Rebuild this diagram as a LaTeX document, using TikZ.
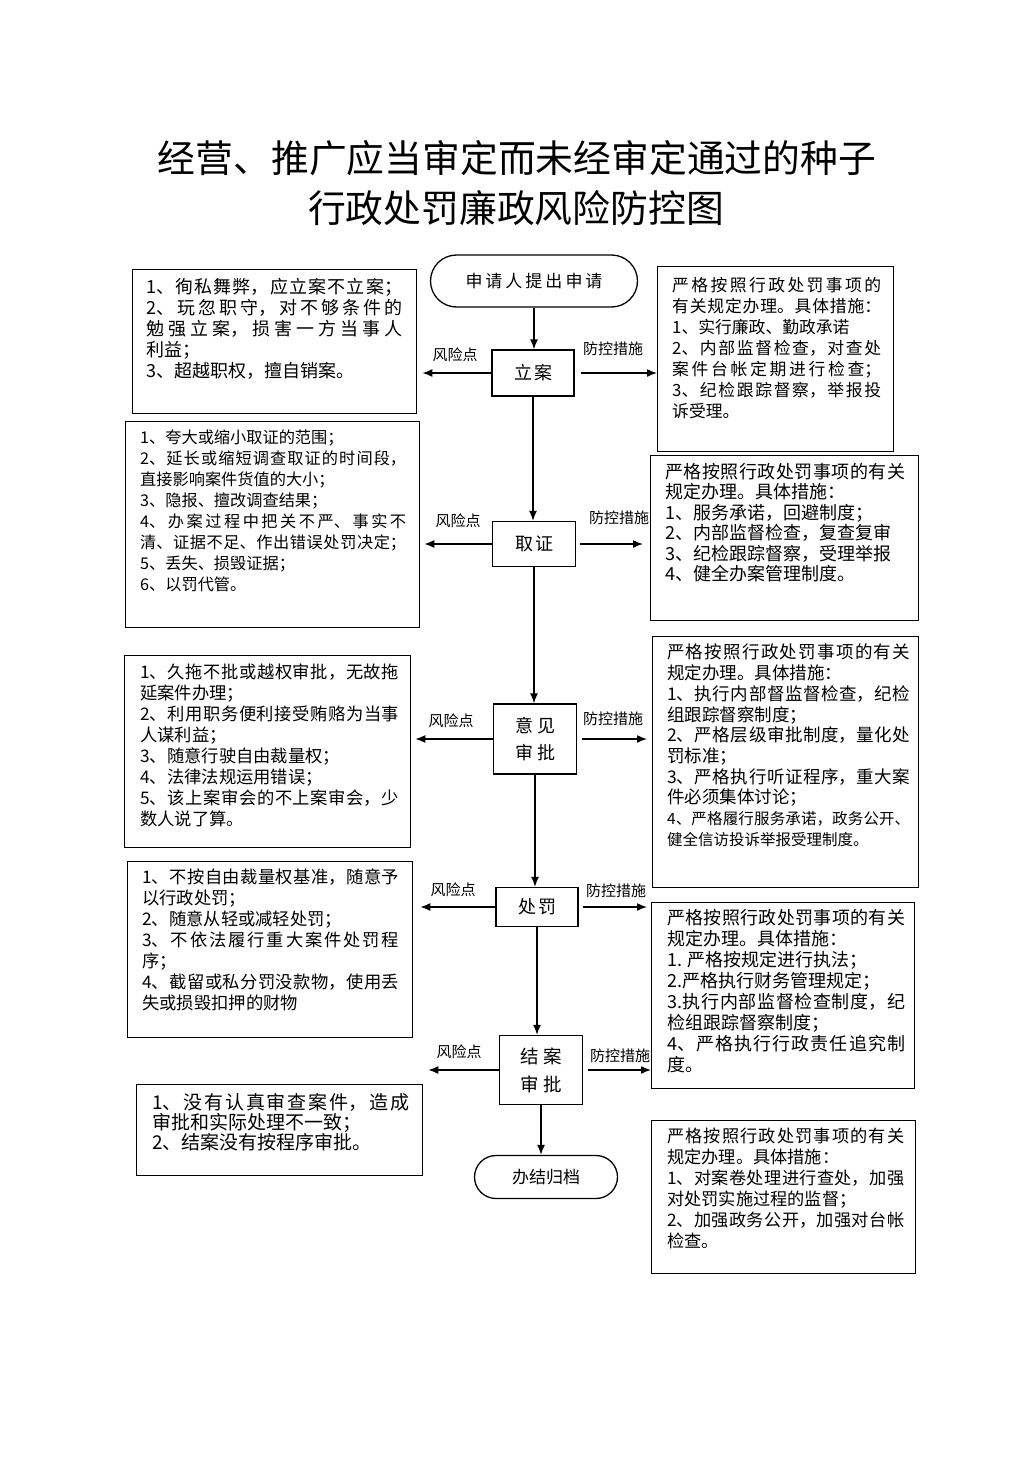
\documentclass[tikz,border=0pt]{standalone}
\usepackage{fontspec}
\setmainfont{Noto Sans CJK SC}
\usetikzlibrary{arrows.meta,shapes.misc}
\XeTeXlinebreaklocale "zh"
\XeTeXlinebreakskip=0pt plus 4pt minus 0.6pt
\tolerance=10000 \hbadness=10000 \hfuzz=3pt
\newcommand\btext[4]{\begin{minipage}[t]{#1}\fontsize{#2}{#3}\selectfont #4\end{minipage}}
\begin{document}
\begin{tikzpicture}[x=1pt,y=-1pt,
 box/.style={draw, line width=1.3pt, inner sep=0pt, anchor=north west},
 proc/.style={draw, line width=1.3pt, inner sep=0pt, align=center, font=\fontsize{18}{27}\selectfont},
 term/.style={draw, rounded rectangle, line width=1.3pt, inner sep=0pt},
 arr/.style={line width=1.5pt, -{Latex[length=10pt,width=8pt]}},
 lbl/.style={font=\fontsize{15}{18}\selectfont, inner sep=0pt},
 txt/.style={anchor=north west, inner sep=0pt},
 ttl/.style={font=\fontsize{37.8}{40}\selectfont, inner sep=0pt}]
\useasboundingbox (0,0) rectangle (1033,1461);
\fill[white] (0,0) rectangle (1033,1461);

% title
\node[ttl] (t1) at (517,158) {经营、推广应当审定而未经审定通过的种子};
\node[ttl] (t2) at (516,208) {行政处罚廉政风险防控图};

% centre flow
\node[term, minimum width=207pt, minimum height=52pt, font=\fontsize{17}{20}\selectfont] (st) at (534,281) {申\kern3pt 请\kern3pt 人\kern3pt 提\kern3pt 出\kern3pt 申\kern3pt 请};
\node[proc, minimum width=82pt, minimum height=46pt] (la) at (533,373) {立\kern2pt 案};
\node[proc, minimum width=83pt, minimum height=45pt] (qz) at (534,544) {取\kern2pt 证};
\node[proc, minimum width=83pt, minimum height=70pt] (yj) at (535,739) {意\kern4pt 见\\审\kern4pt 批};
\node[proc, minimum width=82pt, minimum height=39pt] (cf) at (537,907) {处\kern2pt 罚};
\node[proc, minimum width=83pt, minimum height=69pt, font=\fontsize{18.5}{28}\selectfont] (ja) at (541,1070) {结\kern5pt 案\\审\kern5pt 批};
\node[term, minimum width=143pt, minimum height=43pt, font=\fontsize{17}{20}\selectfont] (en) at (546,1177) {办结归档};

% left boxes
\node[box, minimum width=284pt, minimum height=144pt] (L1) at (132,269) {};
\node[box, minimum width=294pt, minimum height=206pt] (L2) at (125,421) {};
\node[box, minimum width=286pt, minimum height=192pt] (L3) at (124,655) {};
\node[box, minimum width=285pt, minimum height=176pt] (L4) at (127,861) {};
\node[box, minimum width=286pt, minimum height=91pt] (L5) at (136,1084) {};
% right boxes
\node[box, minimum width=236pt, minimum height=185pt] (R1) at (657,266) {};
\node[box, minimum width=268pt, minimum height=165pt] (R2) at (650,455) {};
\node[box, minimum width=266pt, minimum height=251pt] (R3) at (652,636) {};
\node[box, minimum width=263pt, minimum height=186pt] (R4) at (651,902) {};
\node[box, minimum width=264pt, minimum height=153pt] (R5) at (651,1120) {};

% texts
\node[txt] (L1t) at (146,278) {\btext{256pt}{18}{21}{1、徇私舞弊，应立案不立案；\linebreak
2、玩忽职守，对不够条件的\linebreak
勉强立案，损害一方当事人\linebreak
利益；\\
3、超越职权，擅自销案。}};
\node[txt] (L2t) at (140,430) {\btext{266pt}{16.2}{21}{1、夸大或缩小取证的范围；\\
2、延长或缩短调查取证的时间段，\linebreak
直接影响案件货值的大小；\\
3、隐报、擅改调查结果；\\
4、办案过程中把关不严、事实不\linebreak
清、证据不足、作出错误处罚决定；\linebreak
5、丢失、损毁证据；\\
6、以罚代管。}};
\node[txt] (L3t) at (140,664) {\btext{259pt}{17.3}{21}{1、久拖不批或越权审批，无故拖\linebreak
延案件办理；\\
2、利用职务便利接受贿赂为当事\linebreak
人谋利益；\\
3、随意行驶自由裁量权；\\
4、法律法规运用错误；\\
5、该上案审会的不上案审会，少\linebreak
数人说了算。}};
\node[txt] (L4t) at (142,869) {\btext{257pt}{17.3}{21}{1、不按自由裁量权基准，随意予\linebreak
以行政处罚；\\
2、随意从轻或减轻处罚；\\
3、不依法履行重大案件处罚程\linebreak
序；\\
4、截留或私分罚没款物，使用丢\linebreak
失或损毁扣押的财物}};
\node[txt] (L5t) at (152,1093) {\btext{257pt}{19}{20}{1、没有认真审查案件，造成\linebreak
审批和实际处理不一致；\\
2、结案没有按程序审批。}};

\node[txt] (R1t) at (672,277) {\btext{209pt}{16.8}{21}{严格按照行政处罚事项的\linebreak
有关规定办理。具体措施：\linebreak
1、实行廉政、勤政承诺\\
2、内部监督检查，对查处\linebreak
案件台帐定期进行检查；\linebreak
3、纪检跟踪督察，举报投\linebreak
诉受理。}};
\node[txt] (R2t) at (665,463) {\btext{240pt}{18}{20.5}{严格按照行政处罚事项的有关\linebreak
规定办理。具体措施：\\
1、服务承诺，回避制度；\\
2、内部监督检查，复查复审\\
3、纪检跟踪督察，受理举报\\
4、健全办案管理制度。}};
\node[txt] (R3t) at (667,644) {\btext{243pt}{17.5}{20.7}{严格按照行政处罚事项的有关\linebreak
规定办理。具体措施：\\
1、执行内部督监督检查，纪检\linebreak
组跟踪督察制度；\\
2、严格层级审批制度，量化处\linebreak
罚标准；\\
3、严格执行听证程序，重大案\linebreak
件必须集体讨论；\\
{\fontsize{15.5}{20.7}\selectfont 4、严格履行服务承诺，政务公开、}\linebreak
{\fontsize{15.5}{20.7}\selectfont 健全信访投诉举报受理制度。}}};
\node[txt] (R4t) at (667,909) {\btext{238pt}{18}{21}{严格按照行政处罚事项的有关\linebreak
规定办理。具体措施：\\
1. 严格按规定进行执法；\\
2.严格执行财务管理规定；\\
3.执行内部监督检查制度，纪\linebreak
检组跟踪督察制度；\\
4、严格执行行政责任追究制\linebreak
度。}};
\node[txt] (R5t) at (667,1128) {\btext{237pt}{17.2}{21}{严格按照行政处罚事项的有关\linebreak
规定办理。具体措施：\\
1、对案卷处理进行查处，加强\linebreak
对处罚实施过程的监督；\\
2、加强政务公开，加强对台帐\linebreak
检查。}};

% labels
\node[lbl] (a1) at (455,355) {风险点};
\node[lbl] (b1) at (613,349) {防控措施};
\node[lbl] (a2) at (458,521) {风险点};
\node[lbl] (b2) at (619,518) {防控措施};
\node[lbl] (a3) at (451,721) {风险点};
\node[lbl] (b3) at (613,719) {防控措施};
\node[lbl] (a4) at (453,890) {风险点};
\node[lbl] (b4) at (616,891) {防控措施};
\node[lbl] (a5) at (459,1052) {风险点};
\node[lbl] (b5) at (620,1056) {防控措施};

% vertical flow
\draw[arr] (st.south) -- (st.south |- la.north);
\draw[arr] (la.south) -- (la.south |- qz.north);
\draw[arr] (qz.south) -- (qz.south |- yj.north);
\draw[arr] (yj.south) -- (yj.south |- cf.north);
\draw[arr] (cf.south) -- (cf.south |- ja.north);
\draw[arr] (ja.south) -- (ja.south |- en.north);

% side arrows
\draw[arr, shorten >=5pt] (la.west) -- (la.west -| L1.east);
\draw[arr, shorten <=6pt] (la.east) -- (la.east -| R1.west);
\draw[arr, shorten >=4pt] (qz.west) -- (qz.west -| L2.east);
\draw[arr, shorten <=4pt, shorten >=7pt] (qz.east) -- (qz.east -| R2.west);
\draw[arr, shorten >=4pt] (yj.west) -- (yj.west -| L3.east);
\draw[arr, shorten <=5pt, shorten >=5pt] (yj.east) -- (yj.east -| R3.west);
\draw[arr, shorten >=7pt] (cf.west) -- (cf.west -| L4.east);
\draw[arr, shorten <=4pt, shorten >=4pt] (cf.east) -- (cf.east -| R4.west);
\draw[arr, shorten >=5pt] (ja.west) -- (ja.west -| L5.east);
\draw[arr, shorten <=5pt] (ja.east) -- (ja.east -| R5.west);
\end{tikzpicture}
\end{document}
